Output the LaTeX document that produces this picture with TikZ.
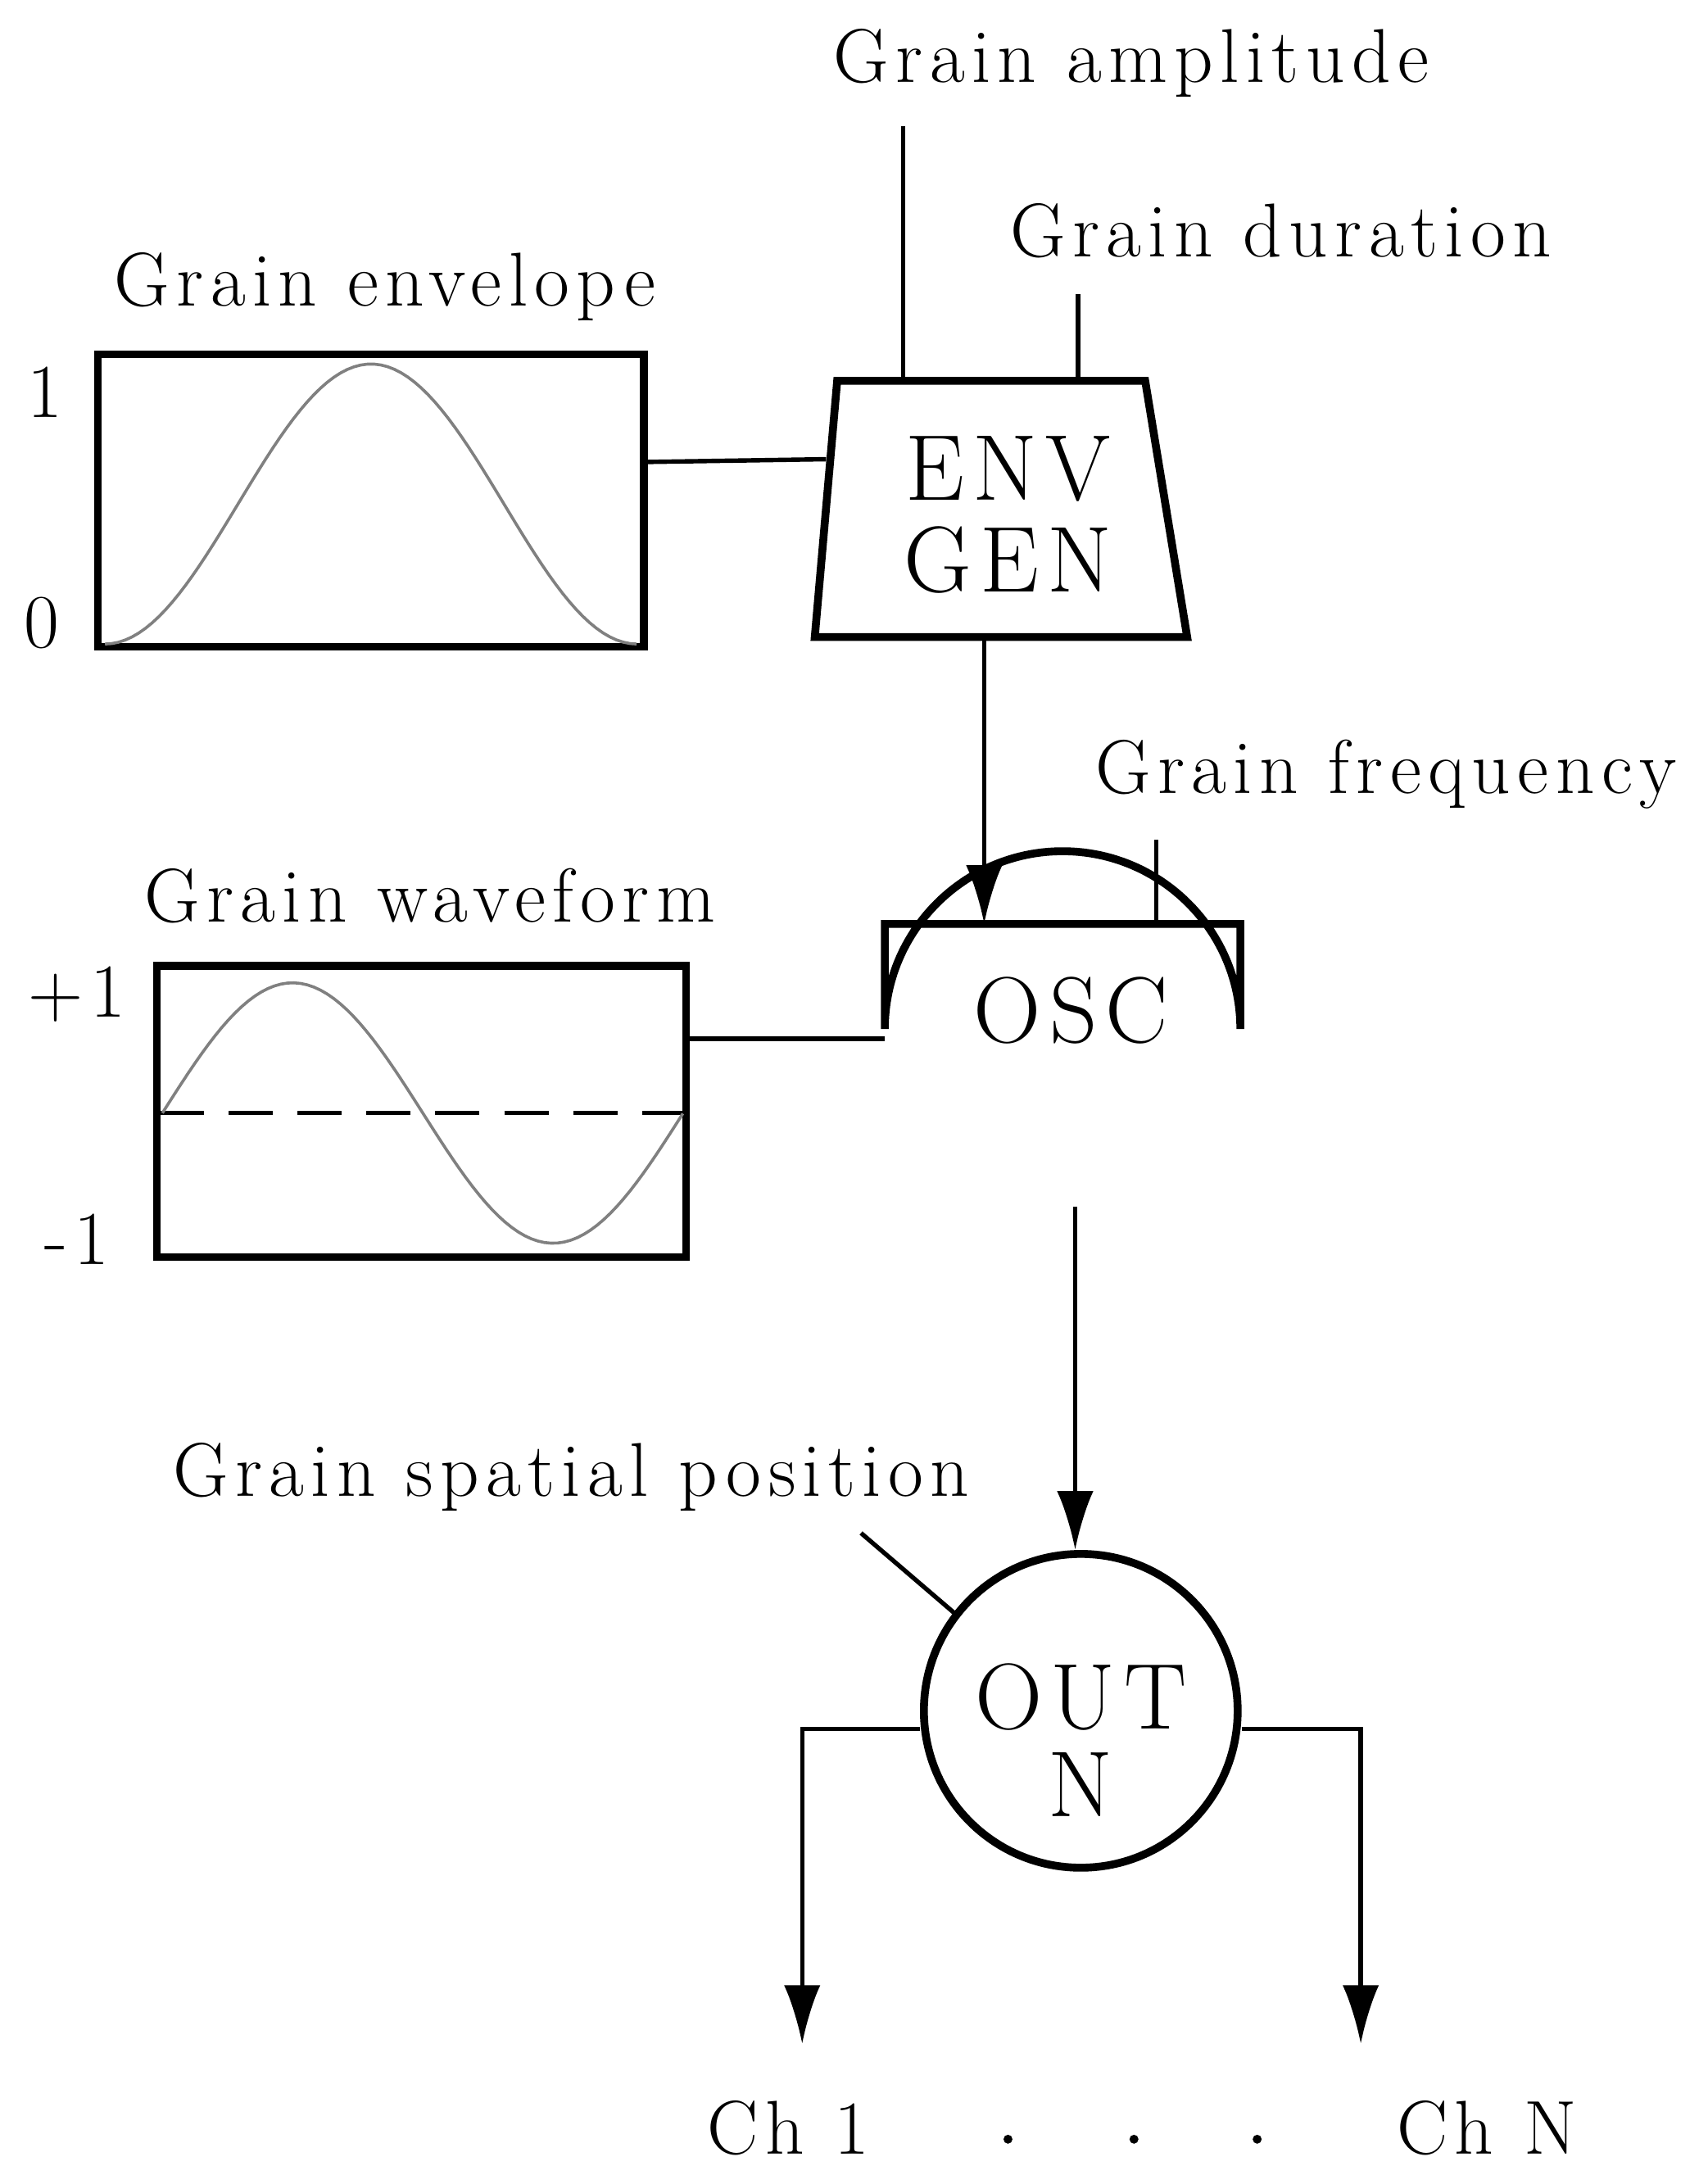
\documentclass[tikz,border=0pt]{standalone}
\usepackage{fontspec}
\setmainfont{Latin Modern Roman}[LetterSpace=9]
\usetikzlibrary{arrows.meta}
\begin{document}
\begin{tikzpicture}[x=0.01cm,y=-0.01cm,
  lbl/.style={font=\fontsize{15.5}{18}\selectfont, inner sep=0pt},
  big/.style={font=\fontsize{19}{22}\selectfont, inner sep=0pt},
  box/.style={line width=1.6pt},
  wire/.style={line width=0.9pt},
  arr/.style={wire,-{Latex[length=0.42cm,width=0.26cm]}}]
\useasboundingbox (0,0) rectangle (1220,1560);
% envelope table
\node[lbl] at (275,205) {Grain\ envelope};
\draw[box] (70,253) rectangle (460,462);
\coordinate (envR) at (460,330);
\node[lbl] at (32,280) {1};
\node[lbl] at (30,445) {0};
\draw[gray,line width=0.6pt,domain=0:1,samples=80,variable=\t] plot ({75+380*\t},{460-200*(0.5-0.5*cos(360*\t))});
% env gen
\draw[box] (598,272) -- (818,272) -- (848,455) -- (582,455) -- cycle;
\coordinate (envL) at (590,328);
\node[big] at (720,335) {ENV};
\node[big] at (720,400) {GEN};
\draw[wire] (envR) -- (envL);
\node[lbl] (amp) at (808,45) {Grain\ amplitude};
\coordinate (ampT) at (645,90); \coordinate (ampB) at (645,272);
\draw[wire] (ampT) -- (ampB);
\node[lbl] at (915,165) {Grain\ duration};
\coordinate (durT) at (770,210); \coordinate (durB) at (770,272);
\draw[wire] (durT) -- (durB);
\coordinate (envB) at (703,455); \coordinate (oscT) at (703,660);
\draw[arr] (envB) -- (oscT);
% OSC
\draw[box] (632,735) -- (632,660) -- (886,660) -- (886,735) arc[start angle=0,end angle=-180,radius=127];
\node[big] at (765,722) {OSC};
\node[lbl] at (990,553) {Grain\ frequency};
\coordinate (frT) at (826,600); \coordinate (frB) at (826,660);
\draw[wire] (frT) -- (frB);
% waveform table
\node[lbl] at (307,640) {Grain\ waveform};
\draw[box] (112,690) rectangle (490,898);
\draw[wire,dashed,dash pattern=on 9pt off 5pt] (114,795) -- (488,795);
\draw[gray,line width=0.6pt,domain=0:1,samples=80,variable=\t] plot ({116+372*\t},{795-93*sin(360*\t)});
\node[lbl] at (55,710) {+1};
\node[lbl] at (55,885) {-1};
\coordinate (wavR) at (490,742); \coordinate (oscL) at (632,742);
\draw[wire] (wavR) -- (oscL);
% OUT
\node[draw,circle,box,minimum size=2.24cm,inner sep=0pt] (out) at (772,1222) {};
\node[big] at (772,1212) {OUT};
\node[big] at (772,1275) {N};
\coordinate (oscB) at (768,862);
\draw[arr] (oscB) -- (out.north -| oscB);
\node[lbl] at (408,1055) {Grain\ spatial\ position};
\coordinate (spT) at (615,1095); \coordinate (spB) at (685,1155);
\draw[wire] (spT) -- (spB);
\coordinate (ch1) at (573,1460); \coordinate (chN) at (972,1460);
\draw[arr] (out.180) ++(0,13) -- (573,1235) -- (ch1);
\draw[arr] (out.0) ++(0,13) -- (972,1235) -- (chN);
\node[lbl] at (563,1520) {Ch\ 1};
\node[lbl] at (1062,1520) {Ch\ N};
\foreach \x in {720,810,898} \fill (\x,1528) circle (3.2);
\end{tikzpicture}
\end{document}
